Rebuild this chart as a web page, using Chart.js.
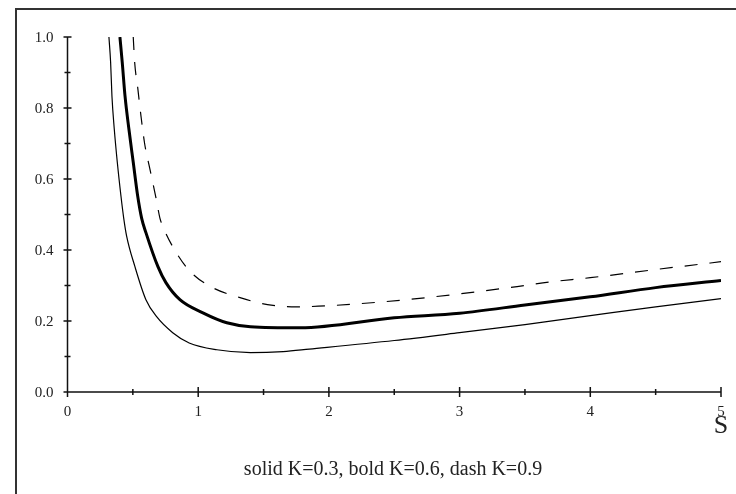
<!DOCTYPE html>
<html>
<head>
<meta charset="utf-8">
<script src="https://cdn.jsdelivr.net/npm/chart.js@4/dist/chart.umd.min.js"></script>
<style>
    html, body { margin: 0; padding: 0; background: #fff; }
    #wrap { position: relative; width: 736px; height: 494px; }
    #frame {
        position: absolute; left: 15px; top: 8px; right: 0; bottom: 0;
        border-left: 2px solid #333; border-top: 2px solid #333;
        pointer-events: none;
    }
</style>
</head>
<body>
<div id="wrap">
    <canvas id="chart" width="736" height="494"></canvas>
    <div id="frame"></div>
</div>
<script>
// S values and curve heights
const sThin = [0.317, 0.33, 0.34, 0.358, 0.381, 0.409, 0.43, 0.452, 0.516, 0.60, 0.682, 0.805, 0.931, 1.143, 1.4, 1.65, 1.85, 2.5, 3.0, 3.5, 4.0, 4.5, 5.0]
const thinK03 = [1.0, 0.928, 0.834, 0.74, 0.647, 0.552, 0.49, 0.44, 0.353, 0.26, 0.212, 0.167, 0.138, 0.119, 0.111, 0.114, 0.121, 0.145, 0.167, 0.19, 0.215, 0.24, 0.263]

const sBold = [0.401, 0.419, 0.44, 0.47, 0.503, 0.537, 0.567, 0.60, 0.692, 0.753, 0.86, 1.036, 1.219, 1.4, 1.78, 2.5, 3.0, 3.5, 4.0, 4.5, 5.0]
const boldK06 = [1.0, 0.928, 0.834, 0.74, 0.647, 0.552, 0.49, 0.449, 0.353, 0.308, 0.26, 0.223, 0.195, 0.184, 0.181, 0.209, 0.222, 0.245, 0.268, 0.294, 0.314]

const sDash = [0.503, 0.514, 0.537, 0.562, 0.59, 0.631, 0.677, 0.707, 0.73, 0.82, 0.94, 1.11, 1.32, 1.53, 1.75, 2.24, 2.8, 3.44, 3.69, 4.0, 4.5, 5.0]
const dashK09 = [1.0, 0.928, 0.858, 0.778, 0.70, 0.627, 0.547, 0.49, 0.466, 0.40, 0.339, 0.294, 0.266, 0.246, 0.240, 0.249, 0.268, 0.297, 0.31, 0.322, 0.345, 0.367]

const xTickLabels = ['0', '1', '2', '3', '4', '5']
const yTickLabels = ['0.0', '0.2', '0.4', '0.6', '0.8', '1.0']
const xMinorTicks = [0.5, 1.5, 2.5, 3.5, 4.5]
const yMinorTicks = [0.1, 0.3, 0.5, 0.7, 0.9]
const caption = 'solid K=0.3, bold K=0.6, dash K=0.9'
const xTitle = 'S'

function points(xs, ys)
{
    return xs.map((x, i) => ({x: x, y: ys[i]}))
}

//оси с засечками в обе стороны, подписи и подпись снизу
const axesPlugin = {
    id: 'crossAxes',
    afterDraw(chart) {
        const ctx = chart.ctx
        const xs = chart.scales.x
        const ys = chart.scales.y
        const x0 = xs.getPixelForValue(0)
        const y0 = ys.getPixelForValue(0)
        ctx.save()
        ctx.strokeStyle = '#111'
        ctx.lineWidth = 1.5
        ctx.beginPath()
        ctx.moveTo(x0, ys.getPixelForValue(1))
        ctx.lineTo(x0, y0)
        ctx.lineTo(xs.getPixelForValue(5), y0)
        for (const v of yTickLabels) {
            const p = ys.getPixelForValue(parseFloat(v))
            ctx.moveTo(x0 - 4, p); ctx.lineTo(x0 + 4, p)
        }
        for (const v of yMinorTicks) {
            const p = ys.getPixelForValue(v)
            ctx.moveTo(x0 - 3, p); ctx.lineTo(x0 + 3, p)
        }
        for (const v of xTickLabels) {
            const p = xs.getPixelForValue(parseFloat(v))
            ctx.moveTo(p, y0 - 5); ctx.lineTo(p, y0 + 5)
        }
        for (const v of xMinorTicks) {
            const p = xs.getPixelForValue(v)
            ctx.moveTo(p, y0 - 3); ctx.lineTo(p, y0 + 3)
        }
        ctx.stroke()

        ctx.fillStyle = '#222'
        ctx.font = '15px "Liberation Serif", "Times New Roman", serif'
        ctx.textAlign = 'right'
        ctx.textBaseline = 'middle'
        for (const v of yTickLabels) {
            ctx.fillText(v, x0 - 14, ys.getPixelForValue(parseFloat(v)) + 1)
        }
        ctx.textAlign = 'center'
        for (const v of xTickLabels) {
            ctx.fillText(v, xs.getPixelForValue(parseFloat(v)), y0 + 20)
        }
        ctx.font = '26px "Liberation Serif", "Times New Roman", serif'
        ctx.fillText(xTitle, xs.getPixelForValue(5), y0 + 34)
        ctx.font = '20px "Liberation Serif", "Times New Roman", serif'
        ctx.fillText(caption, 393, 470)
        ctx.restore()
    }
}

new Chart(document.getElementById('chart'), {
    type: 'scatter',
    data: {
        datasets: [
            {
                label: 'K=0.3',
                data: points(sThin, thinK03),
                borderColor: '#000',
                borderWidth: 1.2,
            },
            {
                label: 'K=0.6',
                data: points(sBold, boldK06),
                borderColor: '#000',
                borderWidth: 3,
            },
            {
                label: 'K=0.9',
                data: points(sDash, dashK09),
                borderColor: '#000',
                borderWidth: 1.2,
                borderDash: [13, 12],
            }
        ].map(d => Object.assign(d, {
            showLine: true,
            pointRadius: 0,
            pointHoverRadius: 0,
            cubicInterpolationMode: 'monotone',
            fill: false
        }))
    },
    options: {
        responsive: false,
        animation: false,
        events: [],
        layout: {
            padding: {left: 67.5, right: 15, top: 37, bottom: 102}
        },
        plugins: {
            legend: {display: false},
            tooltip: {enabled: false}
        },
        scales: {
            x: {type: 'linear', min: 0, max: 5, display: false},
            y: {type: 'linear', min: 0, max: 1, display: false}
        }
    },
    plugins: [axesPlugin]
})
</script>
</body>
</html>
